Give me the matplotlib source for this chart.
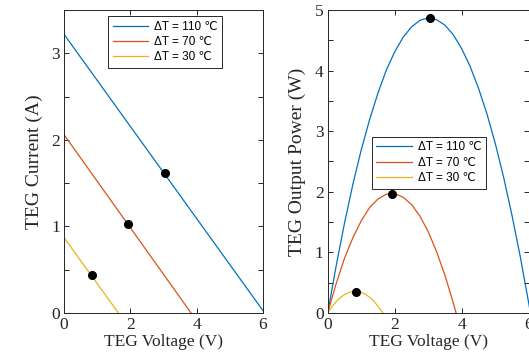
import matplotlib.pyplot as plt
from matplotlib.ticker import MultipleLocator

# I-V lines: (V, I) end points and max power points
labels = ['ΔT = 110 ℃', 'ΔT = 70 ℃', 'ΔT = 30 ℃']
colors = ['#0072BD', '#D95319', '#EDB120']

iv_v = [[0.0, 6.05], [0.0, 3.83], [0.0, 1.64]]
iv_i = [[3.22, 0.0], [2.06, 0.0], [0.87, 0.0]]

mpp_v = [3.05, 1.93, 0.83]
mpp_i = [1.62, 1.03, 0.44]
mpp_p = [4.87, 1.97, 0.35]

# P-V curves
pv_v110 = [0, 0.25, 0.5, 0.75, 1.0, 1.25, 1.5, 1.75, 2.0, 2.25, 2.5, 2.75, 3.0,
           3.25, 3.5, 3.75, 4.0, 4.25, 4.5, 4.75, 5.0, 5.25, 5.5, 5.75, 6.0, 6.05]
pv_p110 = [0, 0.77, 1.48, 2.12, 2.69, 3.19, 3.63, 4.01, 4.31, 4.55, 4.72, 4.83, 4.87,
           4.84, 4.75, 4.59, 4.36, 4.07, 3.71, 3.29, 2.80, 2.24, 1.61, 0.92, 0.16, 0]
pv_v70 = [0, 0.25, 0.5, 0.75, 1.0, 1.25, 1.5, 1.75, 2.0, 2.25, 2.5, 2.75, 3.0,
          3.25, 3.5, 3.75, 3.83]
pv_p70 = [0, 0.48, 0.90, 1.24, 1.52, 1.74, 1.88, 1.96, 1.97, 1.91, 1.79, 1.60, 1.34,
          1.01, 0.62, 0.16, 0]
pv_v30 = [0, 0.125, 0.25, 0.375, 0.5, 0.625, 0.75, 0.875, 1.0, 1.125, 1.25, 1.375,
          1.5, 1.625, 1.64]
pv_p30 = [0, 0.100, 0.184, 0.252, 0.302, 0.337, 0.354, 0.355, 0.339, 0.307, 0.259,
          0.193, 0.111, 0.013, 0]

pv_v = [pv_v110, pv_v70, pv_v30]
pv_p = [pv_p110, pv_p70, pv_p30]

serif = 'Liberation Serif'
leg_font = {'family': ['Liberation Sans', 'DejaVu Sans'], 'size': 8.5}
edge = '#262626'

fig = plt.figure(figsize=(5.29, 3.58), dpi=100)
ax1 = fig.add_axes([0.121, 0.126, 0.376, 0.846])
ax2 = fig.add_axes([0.6195, 0.126, 0.380, 0.846])

for k in range(3):
    ax1.plot(iv_v[k], iv_i[k], color=colors[k], lw=0.9, label=labels[k])
    ax2.plot(pv_v[k], pv_p[k], color=colors[k], lw=0.9, label=labels[k])
ax1.plot(mpp_v, mpp_i, 'o', color='black', ms=5.5, ls='none')
ax2.plot(mpp_v, mpp_p, 'o', color='black', ms=5.5, ls='none')

ax1.set_xlim(0, 6)
ax1.set_ylim(0, 3.5)
ax2.set_xlim(0, 6)
ax2.set_ylim(0, 5)

for ax in (ax1, ax2):
    ax.xaxis.set_major_locator(MultipleLocator(2))
    ax.yaxis.set_major_locator(MultipleLocator(1))
    ax.yaxis.set_minor_locator(MultipleLocator(0.5))
    ax.tick_params(which='both', direction='in', top=True, right=True,
                   length=3.5, width=0.7, color=edge, labelsize=12.5, pad=3)
    for lab in ax.get_xticklabels() + ax.get_yticklabels():
        lab.set_fontfamily(serif)
        lab.set_color(edge)
    for s in ax.spines.values():
        s.set_color(edge)
        s.set_linewidth(0.7)
    ax.set_xlabel('TEG Voltage (V)', family=serif, fontsize=12.5, color=edge, labelpad=1)

ax1.set_ylabel('TEG Current (A)', family=serif, fontsize=14, color=edge, labelpad=6)
ax2.set_ylabel('TEG Output Power (W)', family=serif, fontsize=14, color=edge, labelpad=6)

leg_kw = dict(prop=leg_font, fancybox=False, edgecolor=edge, framealpha=1,
              handlelength=3.0, handletextpad=0.5, borderpad=0.4,
              labelspacing=0.28, borderaxespad=0)
l1 = ax1.legend(loc='upper left', bbox_to_anchor=(0.221, 0.98), **leg_kw)
l2 = ax2.legend(loc='upper left', bbox_to_anchor=(0.219, 0.582), **leg_kw)
for l in (l1, l2):
    l.get_frame().set_linewidth(0.7)

fig.savefig('out.png', dpi=100)
